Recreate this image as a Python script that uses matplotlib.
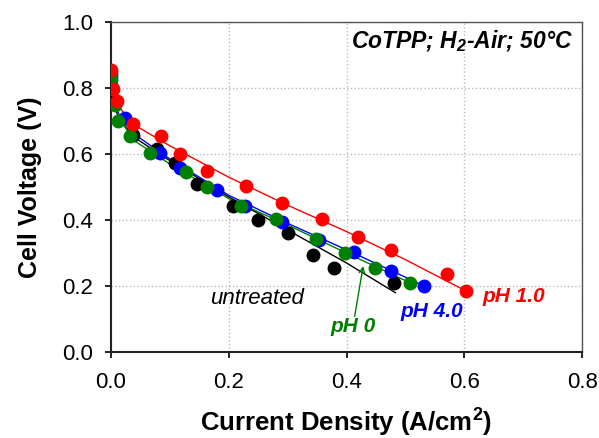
import matplotlib
matplotlib.use("Agg")
import matplotlib.pyplot as plt

plt.rcParams['font.family'] = ['Liberation Sans', 'DejaVu Sans']

# Data points (current density A/cm2, voltage V)
red_x = [0.000, 0.003, 0.011, 0.037, 0.085, 0.118, 0.163, 0.229, 0.291, 0.358, 0.419, 0.475, 0.570, 0.603]
red_y = [0.853, 0.797, 0.759, 0.692, 0.653, 0.601, 0.550, 0.502, 0.453, 0.402, 0.348, 0.309, 0.236, 0.185]

blue_x = [0.000, 0.000, 0.007, 0.024, 0.083, 0.117, 0.180, 0.228, 0.290, 0.354, 0.412, 0.476, 0.531]
blue_y = [0.835, 0.810, 0.754, 0.709, 0.603, 0.557, 0.491, 0.444, 0.395, 0.340, 0.302, 0.247, 0.201]

black_x = [0.000, 0.002, 0.038, 0.078, 0.109, 0.146, 0.207, 0.249, 0.300, 0.343, 0.378, 0.480]
black_y = [0.787, 0.770, 0.658, 0.616, 0.574, 0.510, 0.444, 0.400, 0.362, 0.294, 0.254, 0.208]

green_x = [0.000, 0.000, 0.007, 0.013, 0.033, 0.066, 0.127, 0.164, 0.221, 0.280, 0.348, 0.397, 0.448, 0.508]
green_y = [0.845, 0.825, 0.749, 0.701, 0.653, 0.603, 0.544, 0.499, 0.444, 0.403, 0.342, 0.299, 0.254, 0.210]

# Fitted curves
red_fit_x = [0.000, 0.005, 0.015, 0.040, 0.100, 0.200, 0.300, 0.400, 0.500, 0.603]
red_fit_y = [0.860, 0.790, 0.740, 0.688, 0.625, 0.530, 0.445, 0.365, 0.280, 0.185]
blue_fit_x = [0.000, 0.005, 0.015, 0.040, 0.100, 0.200, 0.300, 0.400, 0.531]
blue_fit_y = [0.820, 0.760, 0.715, 0.660, 0.585, 0.475, 0.390, 0.310, 0.201]
black_fit_x = [0.000, 0.005, 0.015, 0.040, 0.100, 0.200, 0.300, 0.400, 0.483]
black_fit_y = [0.800, 0.745, 0.705, 0.650, 0.580, 0.470, 0.370, 0.270, 0.180]
green_fit_x = [0.000, 0.005, 0.015, 0.040, 0.100, 0.200, 0.300, 0.400, 0.508]
green_fit_y = [0.845, 0.760, 0.705, 0.640, 0.570, 0.465, 0.385, 0.300, 0.210]

xticks = [0.0, 0.2, 0.4, 0.6, 0.8]
yticks = [0.0, 0.2, 0.4, 0.6, 0.8, 1.0]

fig = plt.figure(figsize=(5.99, 4.38), dpi=100)
ax = fig.add_axes([0.185, 0.196, 0.787, 0.754])

series = [
    (black_x, black_y, black_fit_x, black_fit_y, 'black'),
    (blue_x, blue_y, blue_fit_x, blue_fit_y, '#0000ff'),
    (green_x, green_y, green_fit_x, green_fit_y, '#008000'),
    (red_x, red_y, red_fit_x, red_fit_y, '#ff0000'),
]
for x, y, fx, fy, c in series:
    ax.plot(fx, fy, color=c, lw=1.0, zorder=2)
    ax.plot(x, y, 'o', color=c, ms=9, mec=c, zorder=3)

ax.set_xlim(0, 0.8)
ax.set_ylim(0, 1.0)
ax.set_xticks(xticks)
ax.set_yticks(yticks)
ax.set_xticklabels([f'{v:.1f}' for v in xticks])
ax.set_yticklabels([f'{v:.1f}' for v in yticks])
ax.tick_params(labelsize=16, length=4, width=1.2, direction='out')
ax.tick_params(axis='x', pad=10)
ax.tick_params(axis='y', pad=9)
ax.grid(True, color='#bbbbbb', linestyle=':', lw=1.0)
ax.set_axisbelow(True)
for s in ['left', 'bottom']:
    ax.spines[s].set_linewidth(1.5)
    ax.spines[s].set_color('#222222')
for s in ['top', 'right']:
    ax.spines[s].set_linewidth(1.0)
    ax.spines[s].set_color('#555555')

ax.set_xlabel('Current Density (A/cm$^\\mathregular{2}$)', fontsize=18.5, fontweight='bold')
ax.set_ylabel('Cell Voltage (V)', fontsize=18, fontweight='bold')
ax.xaxis.set_label_coords(0.50, -0.16)
ax.yaxis.set_label_coords(-0.146, 0.50)

ax.text(0.785, 0.943, 'CoTPP; H$_\\mathregular{2}$-Air; 50°C', fontsize=16.5, fontweight='bold',
        style='italic', ha='right', va='center')
ax.text(0.168, 0.163, 'untreated', fontsize=16, style='italic', color='black', ha='left', va='center')
ax.text(0.372, 0.077, 'pH 0', fontsize=15, style='italic', fontweight='bold', color='#008000', ha='left', va='center')
ax.text(0.491, 0.122, 'pH 4.0', fontsize=15, style='italic', fontweight='bold', color='#0000ff', ha='left', va='center')
ax.text(0.630, 0.168, 'pH 1.0', fontsize=15, style='italic', fontweight='bold', color='#ff0000', ha='left', va='center')
ax.annotate('', xy=(0.429, 0.269), xytext=(0.413, 0.100),
            arrowprops=dict(arrowstyle='->', color='#008000', lw=1.0))

fig.savefig('out.png', dpi=100)
